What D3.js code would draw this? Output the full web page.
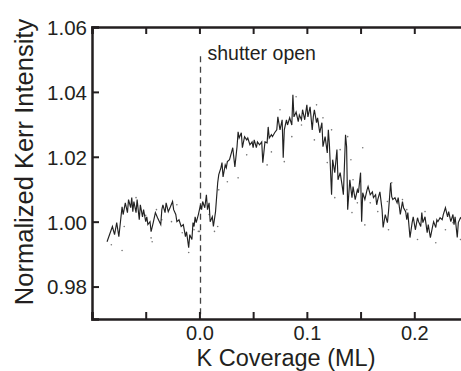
<!DOCTYPE html>
<html>
<head>
<meta charset="utf-8">
<script src="https://cdn.jsdelivr.net/npm/d3@7"></script>
<style>
  body { margin: 0; background: #fff; }
  svg { display: block; font-family: "Liberation Sans", Arial, Helvetica, sans-serif; }
</style>
</head>
<body>
<div id="chart"></div>
<script>
// K coverage (ML) of each Kerr reading
const coverage = [
  -0.086, -0.081, -0.079, -0.077, -0.075, -0.072, -0.071, -0.069, -0.067, -0.066,
  -0.064, -0.063, -0.062, -0.061, -0.059, -0.058, -0.056, -0.055, -0.053, -0.052,
  -0.050, -0.049, -0.048, -0.046, -0.045, -0.043, -0.041, -0.039, -0.036, -0.035,
  -0.034, -0.032, -0.031, -0.029, -0.027, -0.025, -0.024, -0.022, -0.021, -0.019,
  -0.017, -0.015, -0.013, -0.012, -0.010, -0.009, -0.007, -0.006, -0.005, -0.004,
  -0.003, -0.001, 0.001, 0.002, 0.003, 0.005, 0.0065, 0.0075, 0.009, 0.010,
  0.012, 0.013, 0.015, 0.017, 0.018, 0.020, 0.021, 0.022, 0.024, 0.025,
  0.026, 0.028, 0.030, 0.031, 0.033, 0.035, 0.036, 0.037, 0.039, 0.040,
  0.042, 0.044, 0.045, 0.047, 0.049, 0.050, 0.051, 0.053, 0.054, 0.056,
  0.058, 0.059, 0.061, 0.063, 0.064, 0.065, 0.067, 0.068, 0.070, 0.072,
  0.073, 0.075, 0.077, 0.078, 0.079, 0.081, 0.082, 0.084, 0.086, 0.087,
  0.088, 0.090, 0.092, 0.093, 0.095, 0.096, 0.098, 0.100, 0.101, 0.103,
  0.105, 0.106, 0.107, 0.109, 0.110, 0.112, 0.114, 0.115, 0.117, 0.119,
  0.120, 0.121, 0.123, 0.124, 0.126, 0.128, 0.129, 0.131, 0.133, 0.134,
  0.136, 0.137, 0.138, 0.140, 0.142, 0.143, 0.145, 0.147, 0.148, 0.150,
  0.151, 0.152, 0.154, 0.156, 0.157, 0.159, 0.161, 0.162, 0.164, 0.165,
  0.166, 0.168, 0.170, 0.171, 0.173, 0.175, 0.176, 0.178, 0.179, 0.180,
  0.182, 0.184, 0.185, 0.187, 0.189, 0.190, 0.192, 0.193, 0.194, 0.196,
  0.198, 0.199, 0.201, 0.203, 0.204, 0.206, 0.207, 0.208, 0.210, 0.212,
  0.213, 0.215, 0.217, 0.218, 0.220, 0.221, 0.222, 0.224, 0.226, 0.227,
  0.229, 0.231, 0.232, 0.234, 0.236, 0.237, 0.238, 0.240, 0.241, 0.243,
  0.245
];

// normalized Kerr intensity, same order as coverage
const kerr = [
  0.9938, 0.9985, 0.9960, 0.9997, 0.9954, 1.0046, 1.0022, 1.0058, 1.0028, 1.0068,
  1.0043, 1.0074, 1.0031, 1.0062, 1.0028, 1.0068, 1.0006, 1.0052, 1.0015, 1.0037,
  1.0000, 1.0015, 0.9991, 1.0000, 0.9969, 0.9997, 1.0028, 1.0012, 0.9991, 1.0037,
  1.0052, 1.0028, 1.0058, 1.0031, 1.0046, 1.0062, 1.0037, 1.0022, 1.0000, 1.0006,
  0.9985, 0.9991, 0.9954, 0.9969, 0.9920, 0.9960, 0.9945, 0.9997, 0.9985, 1.0015,
  0.9997, 1.0022, 1.0052, 1.0037, 1.0062, 1.0043, 1.0083, 1.0037, 1.0058, 1.0000,
  1.0015, 0.9985, 1.0031, 1.0120, 1.0145, 1.0166, 1.0182, 1.0138, 1.0175, 1.0166,
  1.0185, 1.0191, 1.0215, 1.0228, 1.0169, 1.0231, 1.0277, 1.0258, 1.0274, 1.0228,
  1.0262, 1.0252, 1.0258, 1.0237, 1.0246, 1.0228, 1.0252, 1.0228, 1.0246, 1.0237,
  1.0246, 1.0182, 1.0246, 1.0243, 1.0292, 1.0258, 1.0268, 1.0262, 1.0274, 1.0283,
  1.0323, 1.0283, 1.0314, 1.0197, 1.0283, 1.0314, 1.0298, 1.0320, 1.0298, 1.0391,
  1.0323, 1.0338, 1.0308, 1.0329, 1.0314, 1.0345, 1.0314, 1.0360, 1.0323, 1.0354,
  1.0283, 1.0323, 1.0345, 1.0305, 1.0320, 1.0274, 1.0305, 1.0231, 1.0262, 1.0212,
  1.0283, 1.0237, 1.0083, 1.0191, 1.0151, 1.0222, 1.0129, 1.0151, 1.0108, 1.0083,
  1.0268, 1.0231, 1.0037, 1.0129, 1.0074, 1.0108, 1.0068, 1.0098, 1.0089, 1.0151,
  1.0000, 1.0089, 1.0068, 1.0098, 1.0108, 1.0083, 1.0092, 1.0074, 1.0083, 1.0052,
  1.0068, 1.0092, 1.0037, 0.9982, 1.0022, 0.9997, 1.0031, 1.0120, 1.0077, 1.0068,
  1.0074, 1.0058, 1.0074, 1.0022, 1.0062, 1.0043, 1.0031, 1.0006, 1.0028, 0.9951,
  0.9997, 1.0015, 0.9975, 1.0012, 1.0000, 0.9985, 1.0028, 0.9997, 1.0015, 0.9966,
  0.9991, 0.9951, 0.9985, 1.0000, 0.9982, 1.0006, 1.0000, 1.0012, 1.0006, 1.0022,
  1.0043, 1.0015, 1.0031, 1.0000, 1.0022, 0.9991, 1.0015, 0.9951, 0.9997, 1.0012,
  1.0006
];

// the scattered grey dots around the trace
const dotCoverage = [
  -0.082, -0.072, -0.070, -0.059, -0.050, -0.045, -0.044, -0.040, -0.035, -0.026,
  -0.021, -0.016, -0.010, -0.005, -0.001, 0.000, 0.009, 0.014, 0.017, 0.018,
  0.026, 0.036, 0.044, 0.063, 0.067, 0.075, 0.079, 0.086, 0.090, 0.095,
  0.107, 0.109, 0.115, 0.119, 0.123, 0.126, 0.131, 0.138, 0.141, 0.142,
  0.143, 0.147, 0.152, 0.154, 0.157, 0.159, 0.166, 0.175, 0.176, 0.179,
  0.189, 0.193, 0.203, 0.210, 0.220, 0.229, 0.236, 0.243
];
const dotKerr = [
  0.9929, 0.9911, 0.9985, 1.0074, 1.0020, 0.9950, 0.9938, 1.0037, 1.0006, 1.0000,
  1.0052, 0.9966, 0.9905, 0.9975, 0.9970, 0.9970, 1.0022, 0.9970, 0.9985, 1.0098,
  1.0123, 1.0135, 1.0206, 1.0175, 1.0215, 1.0345, 1.0185, 1.0262, 1.0385, 1.0298,
  1.0252, 1.0360, 1.0320, 1.0182, 1.0283, 1.0074, 1.0222, 1.0262, 1.0191, 1.0028,
  1.0129, 1.0058, 1.0228, 0.9990, 1.0105, 1.0058, 1.0031, 1.0062, 0.9975, 1.0120,
  1.0068, 1.0037, 0.9945, 1.0031, 0.9935, 0.9975, 0.9997, 0.9945
];

const xTicks = [-0.1, -0.05, 0.0, 0.05, 0.1, 0.15, 0.2, 0.25];
const xLabels = [0.0, 0.1, 0.2];
const yTicks = [0.98, 1.00, 1.02, 1.04, 1.06];
const shutterAt = 0.001;

const W = 461, H = 371;
const margin = { top: 27, right: -7, bottom: 52, left: 92 };

const svg = d3.select("#chart").append("svg")
  .attr("width", W)
  .attr("height", H);

const x = d3.scaleLinear().domain([-0.1, 0.25]).range([margin.left, W - margin.right]);
const y = d3.scaleLinear().domain([0.97, 1.06]).range([H - margin.bottom, margin.top]);

const ink = "#231f20";
const fmt = d3.format(".1f");

// shutter marker
svg.append("line")
  .attr("x1", x(shutterAt)).attr("x2", x(shutterAt))
  .attr("y1", y(1.051)).attr("y2", y(0.97))
  .attr("stroke", "#444")
  .attr("stroke-width", 1.3)
  .attr("stroke-dasharray", "6,4.5");

svg.append("text")
  .attr("x", x(shutterAt) + 7)
  .attr("y", 60)
  .attr("font-size", 19.5)
  .attr("fill", ink)
  .text("shutter open");

// grey dots
svg.append("g")
  .selectAll("circle")
  .data(dotCoverage.map((c, i) => [c, dotKerr[i]]))
  .join("circle")
  .attr("cx", (d) => x(d[0]))
  .attr("cy", (d) => y(d[1]))
  .attr("r", 0.8)
  .attr("fill", "#777");

// Kerr trace
const line = d3.line().x((d) => x(d[0])).y((d) => y(d[1]));
svg.append("path")
  .datum(coverage.map((c, i) => [c, kerr[i]]))
  .attr("d", line)
  .attr("fill", "none")
  .attr("stroke", "#222")
  .attr("stroke-width", 1.15)
  .attr("stroke-linejoin", "miter");

// axes, ticks pointing inward on all four sides
const tickLen = 7;
const axBottom = svg.append("g")
  .attr("transform", `translate(0,${y(0.97)})`)
  .call(d3.axisBottom(x).tickValues(xTicks).tickSize(-tickLen).tickPadding(7)
    .tickFormat((d) => xLabels.some((v) => Math.abs(v - d) < 1e-9) ? fmt(d) : ""));
const axTop = svg.append("g")
  .attr("transform", `translate(0,${y(1.06)})`)
  .call(d3.axisTop(x).tickValues(xTicks).tickSize(-tickLen).tickFormat(""));
const axLeft = svg.append("g")
  .attr("transform", `translate(${x(-0.1)},0)`)
  .call(d3.axisLeft(y).tickValues(yTicks).tickSize(-tickLen).tickPadding(5)
    .tickFormat(d3.format(".2f")));
const axRight = svg.append("g")
  .attr("transform", `translate(${x(0.25)},0)`)
  .call(d3.axisRight(y).tickValues(yTicks).tickSize(-tickLen).tickFormat(""));

[axBottom, axTop, axLeft, axRight].forEach((g) => {
  g.select(".domain").attr("stroke", ink).attr("stroke-width", 2.5);
  g.selectAll(".tick line").attr("stroke", ink).attr("stroke-width", 2);
  g.selectAll(".tick text")
    .attr("fill", ink)
    .attr("font-size", 20.5)
    .attr("font-family", "'Liberation Sans', Arial, sans-serif");
});
axLeft.selectAll(".tick text").attr("dy", "0.36em");
axBottom.selectAll(".tick text").attr("font-size", 20);

// axis titles
svg.append("text")
  .attr("x", 286)
  .attr("y", 365.5)
  .attr("text-anchor", "middle")
  .attr("font-size", 23.5)
  .attr("fill", ink)
  .text("K Coverage (ML)");

svg.append("text")
  .attr("transform", "translate(33,162) rotate(-90)")
  .attr("text-anchor", "middle")
  .attr("font-size", 25.5)
  .attr("fill", ink)
  .text("Normalized Kerr Intensity");
</script>
</body>
</html>
